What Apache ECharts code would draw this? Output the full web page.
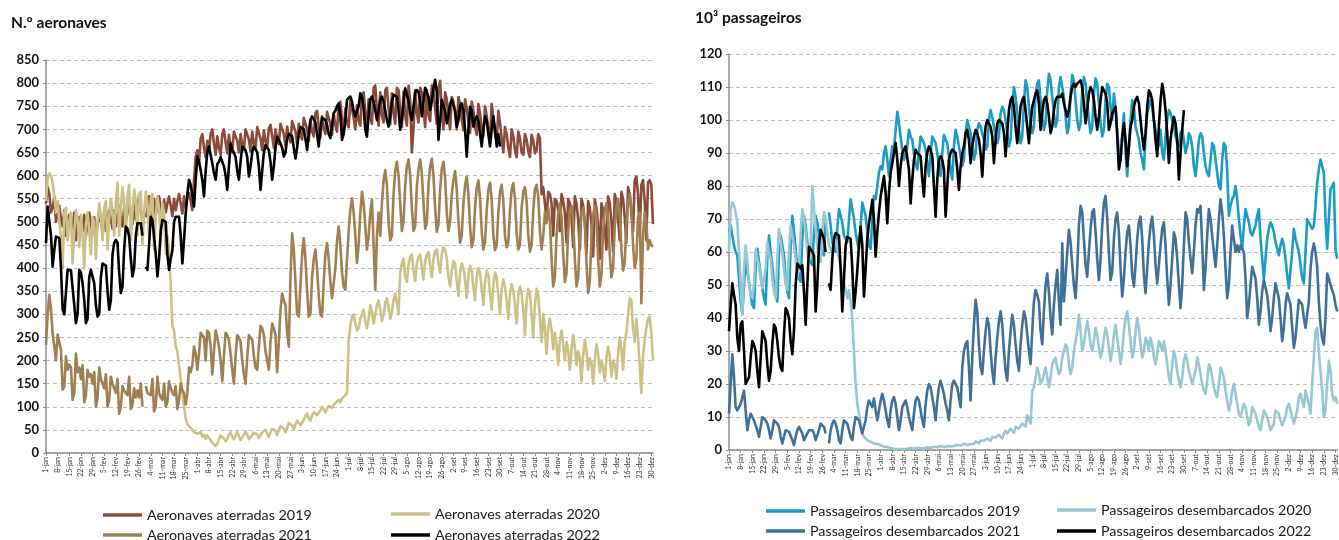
<!DOCTYPE html>
<html>
<head>
<meta charset="utf-8">
<script src="https://cdn.jsdelivr.net/npm/echarts@6/dist/echarts.min.js"></script>
<style>html,body{margin:0;padding:0;background:#fff}#c{width:1339px;height:540px}</style>
</head>
<body>
<div id="c"></div>
<script>
// ---- categories (leap-year calendar, as in the reference axis) ----
const monthNames = ['jan','fev','mar','abr','mai','jun','jul','ago','set','out','nov','dez'];
const monthLengths = [31,29,31,30,31,30,31,31,30,31,30,31];
const days = [];
monthNames.forEach((m, i) => { for (let d = 1; d <= monthLengths[i]; d++) days.push(d + '-' + m); });

const leftTitle = 'N.º aeronaves';
const rightTitle = '10³ passageiros';
const leftNames = ['Aeronaves aterradas 2019','Aeronaves aterradas 2020','Aeronaves aterradas 2021','Aeronaves aterradas 2022'];
const rightNames = ['Passageiros desembarcados 2019','Passageiros desembarcados 2020','Passageiros desembarcados 2021','Passageiros desembarcados 2022'];

// ---- aircraft landed (left panel) ----
const aero2019 = [
540,575,560,520,530,555,500, 520,535,505,490,525,470,505, 515,500,485,520,460,495,510, 505,480,515,470,500,520,495,
475,510,470,495,515,500,480, 520,480,505,525,505,485,525, 490,515,535,510,490,530,500, 520,545,515,495,540,505,525,
560,525,500,null,510,530,555, 525,505,550,515,535,555,530, 510,548,520,540,555,535,512, 550,525,545,560,540,518,555,
530,550,562,545,525,590,640, 655,625,680,690,660,640,675, 650,690,700,670,645,685,660, 645,690,700,672,648,688,665,
650,695,698,675,650,690,668, 655,700,702,678,652,695,670, 658,705,708,680,655,698,675, 660,702,710,685,660,700,680,
668,712,715,690,665,706,685, 672,718,722,695,668,712,690, 678,725,728,700,675,720,695, 685,735,740,708,682,728,702,
690,738,742,712,688,735,708, 695,755,760,720,692,745,712, 705,762,765,725,700,752,718, 708,775,780,735,705,765,725,
712,790,795,740,708,780,730, 715,785,790,745,710,778,735, 712,790,785,740,705,782,730, 708,795,760,650,702,785,735,
715,790,780,740,705,785,730, 718,795,785,745,712,790,805, 740,700,780,765,725,700,770, 760,735,700,770,755,720,698,
765,745,715,692,760,740,705, 688,755,735,700,685,750,730, 695,680,755,725,690,672,740, 715,680,650,705,690,660,640,
700,685,655,640,695,680,650, 645,690,678,652,640,688,675, 648,655,690,682,560,575,540, 505,565,560,540,470,550,545,
525,480,560,545,520,455,550, 540,510,445,555,540,505,440, 550,535,500,430,545,530,495, 425,548,530,490,420,540,525,
485,440,555,540,500,435,560, 545,505,460,565,550,510,455, 575,560,520,480,590,598,560, 470,580,590,545,460,585,590,
580,495];
const aero2020 = [
545,595,605,600,585,555,520, 545,500,470,400,520,530,460, 500,520,410,480,525,505,445, 515,470,400,495,520,480,430,
510,500,420,500,540,510,460, 530,545,440,510,550,520,470, 540,585,470,530,575,540,480, 555,580,460,520,570,545,470,
560,565,450,520,565,540,465, 550,560,440,510,555,530,455, 540,520,430,470,440,360,275, 265,230,220,190,160,130,100,
75,62,60,55,50,45,48, 42,38,45,35,40,30,38, 42,28,22,18,15,20,30, 38,42,32,25,30,40,45,
35,30,38,45,42,28,33, 40,47,45,30,28,38,44, 48,40,32,35,45,48,50, 42,35,45,52,55,48,38,
50,58,60,52,45,55,65, 68,60,50,62,70,72,60, 58,72,80,85,75,70,82, 88,90,82,78,92,100,95,
88,96,102,105,98,95,108, 112,115,110,118,122,125,130, 240,275,295,300,280,265,270, 290,300,310,285,270,290,320,
305,280,300,320,330,310,285, 300,325,335,315,290,305,330, 345,325,300,390,410,420,380, 370,405,425,430,395,372,410,
425,430,400,375,415,428,435, 405,380,420,435,440,410,390, 430,445,440,420,380,360,395, 415,410,370,340,390,410,400,
375,335,385,405,395,360,330, 380,400,390,355,320,370,395, 385,345,310,365,390,380,340, 300,355,375,360,330,290,345,
365,350,320,280,340,360,345, 310,255,330,355,345,300,250, 320,355,340,290,240,300,270, 215,270,290,265,225,260,235,
190,245,265,235,200,240,220, 180,225,255,230,190,220,205, 155,210,245,220,180,205,195, 150,200,235,215,175,200,185,
155,205,230,210,165,200,190, 160,215,250,225,180,240,260, 300,335,330,270,240,290,250, 250,130,210,245,270,290,295,
260,200];
const aero2021 = [
234,300,342,310,259,230,200, 256,256,223,137,144,209,180, 191,185,115,130,215,175,185, 160,190,110,125,180,165,170,
150,175,100,120,185,160,150, 140,170,100,115,165,150,140, 130,160,85,100,145,135,130, 125,165,95,105,140,120,135,
120,150,100,null,145,130,130, 125,160,90,100,165,130,120, 115,150,100,110,155,140,130, 125,145,95,115,150,135,130,
105,130,185,175,190,230,215, 180,215,260,255,250,200,265, 260,230,170,220,265,250,230, 200,155,210,260,255,245,215,
180,150,210,255,250,240,200, 170,150,205,255,250,245,210, 185,180,230,275,270,255,220, 200,180,240,280,270,255,175,
240,310,345,330,320,260,230, 380,475,440,370,300,295,360, 430,465,420,350,295,300,380, 420,440,400,340,300,295,370,
430,454,420,370,335,331,400, 460,490,450,390,360,353,420, 480,526,551,520,470,411,450, 520,565,540,490,440,470,520,
548,545,353,470,520,470,540, 590,612,580,500,460,470,560, 610,630,600,540,480,500,580, 620,635,600,530,480,490,575,
615,635,605,540,485,497,580, 620,637,600,530,478,495,570, 615,630,595,520,480,500,560, 590,610,570,500,455,470,540,
580,598,560,490,445,460,530, 575,590,550,480,440,455,525, 570,585,550,470,439,450,520, 565,580,545,470,445,455,525,
570,584,550,475,440,450,530, 565,575,545,470,436,450,525, 570,580,555,480,440,470,520, 497,530,500,420,360,380,470,
520,540,510,430,370,390,480, 525,535,505,420,360,380,470, 520,530,500,410,346,370,465, 515,535,505,420,360,385,480,
525,540,510,430,380,400,490, 530,550,520,440,395,410,500, 540,560,530,450,400,420,510, 520,324,470,520,500,440,460,
450,446];
const aero2022 = [
454,533,530,470,403,440,468, 468,465,400,310,300,303,396, 400,395,396,320,281,300,396, 390,367,330,281,290,380,396,
395,367,320,295,300,380,410, 410,405,350,310,330,430,454, 461,455,390,346,360,440,490, 485,468,420,382,400,470,497,
497,497,470,null,403,396,450, 511,504,500,430,382,420,480, 504,504,500,430,396,420,439, 500,511,511,511,470,410,460,
518,560,591,580,576,533,590, 641,630,612,590,555,610,650, 663,645,627,605,591,625,630, 640,630,620,600,569,620,670,
655,650,640,610,591,630,663, 665,655,640,598,620,650,663, 660,650,620,569,610,650,666, 660,655,630,591,620,660,684,
680,670,660,641,650,680,690, 691,685,660,637,660,690,705, 709,700,680,655,690,720,728, 725,715,690,663,700,725,728,
720,710,690,681,710,735,740, 750,756,730,677,690,720,764, 760,771,760,740,728,728,750, 778,770,745,700,684,730,765,
771,760,740,720,740,765,771, 760,740,720,706,730,760,775, 778,770,740,699,720,760,789, 785,760,735,720,750,780,785,
780,760,728,760,790,792,770, 742,760,790,807,780,677,720, 764,760,740,713,730,755,764, 760,740,706,720,750,756,740,
700,641,700,749,740,706,720, 728,720,690,663,700,728,720, 690,663,700,728,700,663,690, 663];

// ---- passengers disembarked, thousands (right panel) ----
const pax2019 = [
66,68,65,62,60,59,52, 45,41,50,57,54,51,47, 44,43,55,61,57,53,49, 46,44,58,65,60,56,50,
47,45,60,65,62,59,52, 48,46,62,71,66,61,55, 52,51,64,71,68,63,58, 57,56,66,71,69,65,61,
60,59,70,null,72,68,63, 61,60,67,73,71,69,65, 64,63,70,76,73,70,66, 63,61,68,75,73,71,66,
62,61,70,77,76,80,84, 86,85,90,92,88,83,88, 92,91,97,102.5,99,95,91, 88,88,92,97,95,94,90,
87,85,90,95,95,93,91, 87,83,90,95,94,93,90, 86,83,90,95.5,94,93,89, 85,82,92,97,95,92,89,
86,88,96,100,98,96,92, 88,90,97,99,98,96,94, 91,92,100,103,101,98,95, 93,95,102,104,103,100,96,
92,94,104,110,107,102,97, 93,95,105,112,110,104,99, 96,98,108,111,112,106,101, 97,99,109,114,112,107,102,
98,100,110,113,113,107,101, 96,98,108,113.6,112,106,100, 97,99,109,113,111,105,100, 96,98,108,112.6,111,105,99,
95,97,106,111,110,104,100, 108,104,97,90,88,95,102, 90,83,92,100,106,104,98, 96,94,90,88,85,95,102,
104,106,104,100,97,95,92, 97,90,88,95,100,103,102, 100,98,95,93,92,96,97, 94,90,92,96,95,92,86,
83,88,94,96,95,90,86, 84,83,88,93,92,88,84, 80,79,88,93,92,85,71, 74,76,77,80,76,70,65,
61,68,73,71,69,66,65, 65,68,71,73,64,58,52, 58,64,67,69,68,66,63, 61,59,62,64,62,58,53,
49,48.5,60,67,64,62,60, 56,52,50.5,60,70,69,68, 67,68,74,81,85,88,86, 84,70,61,70,79,80,81,
61,58];
const pax2020 = [
60,73,75,74,72,69,60, 50.5,41,55,62,57,50.5,47, 46,50,61,58,56,52,49, 48.5,55,63,60,58,52,48,
46,58,67,63,60,55,50, 48.5,60,68,65,62,58,52, 56,66,73,70,66,60,57, 62,80,73,67,62,58,57,
66,72,70,66,62,61,60, 65,63,61,58,55,52,50.5, 48.5,46,48.5,45,40,30,20, 14,11,8,5,4,3.5,3,
3,2.5,2.5,2,2,1.8,1.5, 1.5,1.3,1,1.1,0.9,0.8,0.6, 0.5,0.4,0.3,0.3,0.2,0.3,0.4, 0.3,0.5,0.4,0.3,0.6,0.5,0.4,
0.5,0.7,0.6,0.5,0.8,0.6,0.7, 0.8,1.0,0.7,0.6,0.9,1.1,0.9, 0.8,1.2,1.0,0.9,1.3,1.2,1.0, 1.1,1.5,1.2,1.1,1.6,1.4,1.3,
1.4,1.9,1.6,1.5,2.1,1.8,1.6, 1.8,2.6,2.2,2.0,2.9,3.3,2.8, 2.5,3.5,3.0,2.8,4.0,4.5,3.8, 3.2,4.6,4.0,3.5,5.0,5.8,5.0,
4.5,6.5,6.0,5.2,7.0,7.5,6.5, 6.0,8.0,7.5,7.0,10.5,11,8, 18,19,22,25,23,20,21, 23,25,22,19,22,26,27,
28,25,23,24,28,30,32, 31,26,23,25,30,33,36, 41,36,30,32,36,39,36, 32,30,33,37,35,31,28,
30,34,37,35,31,27,30, 35,38,34,30,26,30,36, 40,42,38,33,28,30,36, 40,37,32,28,30,34,33,
30,34,32,28,26,29,33, 32,30,33,30,26,22,20, 26,30,28,24,21,19,22, 27,29,27,24,22,20,20,
24,28,26,23,20,18,17, 21,26,25,22,19,17,16, 20,25,25,22,18,15,12, 14,18,20,17,14,11,10,
12,14,13,10,7.5,9,13, 12,11,9,7,6,9,12, 12,10,8,6,5.5,8,12, 12.6,11,9,7.5,7,10,13,
14,12,10,8,8,12,16, 17,15,13,18,18,14,11, 20,28,36,37,30,24,18, 10,12,20,27,24,17,15,
16,14];
const pax2021 = [
11,20,29,22,13,12,12, 14,16,18,12,6,9,11, 10,9,9,6,4,7,10, 10,9,8,6,3.5,6,9,
9,8,7,4,2,4,6, 6,5.5,5,3,1.5,4,6, 7,6,5,3,3,5,6, 6,6,5,3,3,6,8,
8,7,5,null,2,6,8, 9,8,6,3,2,6,9, 9,8,6,4,3,7,10, 10,9,7,5,5,9,13,
15,14,13,15.6,12,9,12, 15,17,15,12,9,7,12, 15,16,14,10,6,9,13, 14,15,13,10,8,6,11,
15,16,15,12,9,7,14, 18,20,19,16,13,9,15, 19,21,19,17,14,12,9, 15,20,21,21,19,16,13,
25,30,32,33,25,15,28, 38,45.5,42,32,25,23,30, 36,40,38,30,24,20,28, 34,39,42,38,30,24,21,
30,36,41,38,32,27,24, 32,38,42,40,35,30,26, 36,45,48.5,47,45,36,32, 42,50,53.5,48,40,35,44,
50,54.5,45,38,62.6,45,52, 60,66.7,63,56,50,46,55, 68,74,72,64,56,52.5,60, 67,72,73,66,58,51.5,58,
68,75,77,70,60,51.5,54, 64,70,72,66,55,46.5,52, 60,66,68,62,53,49.5,56, 64,69,70.7,64,53,47.5,55,
63,68,70.7,65,56,50.5,56, 62,67,69,62,52,44,50, 58,66,64,58,50,43,50, 62,72,70,63,58,53.5,60,
68,73,72,74,62,48.5,55, 65,73,70,65,60,55.5,62, 70,76,72,65,55,46,50, 60,68,64,60,62,60,62,
62.6,60,52,40,44,50,55.5, 55,52,46,38,42,48,51.5, 51,47,42,36,40,46,50.5, 50,46,40,33,37,44,47.5,
47.5,44,37,31,34,40,45.5, 45.5,44,40,37,37,45,55, 60,62.6,60,55.5,45,38,34, 32,40,53.5,52,50,49.5,47,
44,42];
const pax2022 = [
36,44,50.5,47,44,34,30, 38,39,30,20,21,22,28, 33,32,30,24,19,28,36, 36,33,26,21,24,32,38,
37,33,28,25,24,35,43, 42,40,33,29,36,50,56.5, 56,55,56,48,38,50,61.6, 61.6,60,59,42,50,62,66.7,
66.7,64,60,null,50.5,48.5,58, 64,65.7,66,65,55,42,52, 62,64.6,64.5,64,55,43,48, 54.5,62,67.7,62,46.5,55,64,
68.7,72,75.8,70,58.6,66,72, 76.8,80,83,78,68.7,78,84, 86.9,90,93,88,80,86,90, 91,92,92,85,74.7,82,88,
91,90,90,89,82,76.8,86, 90,92,91,89,80,70.7,82, 88,89,88,85,70.7,80,88, 90,91,91,90,85,78.8,86,
90,92,96,97,94,86.9,92, 95,97,96,94,90,82.8,92, 98,100,99,98,95,86.9,94, 99,100,100,99,96,89,96,
103,106,107,104,98,93,98, 104,106,107,103,98,93,99, 104,106,108,109,105,97,102, 106,107,105,101,96,98,103,
106,107,107.5,107,108,105,103, 101,103,107,110,111,110,111, 111,112,110,105,99,103,108, 110,109,106,101,97,101,106,
110,109,108,105,97,99,102, 103,104,95,85,88,95,99, 94,86,92,98,100,104,106, 107,105,100,95,91,96,104,
109,108,106,100,94,89,98, 106,111,108,103,96,87,94, 98,101,99,94,82,90,97, 103];

// ---- axis ticks ----
const leftTicks = {min: 0, max: 850, interval: 50};
const rightTicks = {min: 0, max: 120, interval: 10};

const FONT = 'Lato, "Open Sans", "Liberation Sans", sans-serif';
const leftColors = ['#8C4B38', '#CBC185', '#9E8052', '#000000'];
const rightColors = ['#1A9CC4', '#95C7D4', '#3E709A', '#000000'];

function mkX(gi) {
  return {
    type: 'category', gridIndex: gi, data: days, boundaryGap: false,
    axisLine: {lineStyle: {color: '#8c8c8c', width: 1.5}},
    axisTick: {show: true, interval: 6, length: 3, lineStyle: {color: '#8c8c8c'}},
    axisLabel: {interval: 6, rotate: 90, fontSize: 7, color: '#333', fontFamily: FONT, margin: 4, hideOverlap: false},
    splitLine: {show: false}
  };
}
function mkY(gi, t) {
  return {
    type: 'value', gridIndex: gi, min: t.min, max: t.max, interval: t.interval,
    axisLine: {show: true, lineStyle: {color: '#8c8c8c', width: 1.5}},
    axisTick: {show: true, length: 3, lineStyle: {color: '#8c8c8c'}},
    axisLabel: {fontSize: 13, fontWeight: 'bold', color: '#111', fontFamily: FONT, margin: 7},
    splitLine: {show: true, lineStyle: {color: '#bdbdbd', type: [4, 3], width: 1}}
  };
}
function mkS(name, data, color, gi, z) {
  return {
    type: 'line', name: name, data: data, xAxisIndex: gi, yAxisIndex: gi,
    symbol: 'none', connectNulls: false, z: z, color: color,
    lineStyle: {color: color, width: 2.6, join: 'round'},
    emphasis: {disabled: true}
  };
}
function mkL(name, left, top, size) {
  return {
    data: [{name: name, icon: 'rect'}], left: left, top: top, padding: 0,
    itemWidth: 39, itemHeight: 3.5, selectedMode: false,
    textStyle: {fontSize: size, color: '#1a1a1a', fontFamily: FONT}
  };
}

const chart = echarts.init(document.getElementById('c'), null, {renderer: 'canvas'});
chart.setOption({
  animation: false,
  backgroundColor: '#ffffff',
  title: [
    {text: leftTitle, left: 11, top: 15, padding: 0, textStyle: {fontSize: 15.5, fontWeight: 'bold', color: '#111', fontFamily: FONT}},
    {text: rightTitle, left: 695, top: 10, padding: 0, textStyle: {fontSize: 15.5, fontWeight: 'bold', color: '#111', fontFamily: FONT}}
  ],
  legend: [
    mkL(leftNames[0], 103, 508, 14.3), mkL(leftNames[1], 391, 507, 14.3),
    mkL(leftNames[2], 103, 528, 14.3), mkL(leftNames[3], 391, 528, 14.3),
    mkL(rightNames[0], 766, 504, 14.3), mkL(rightNames[1], 1057, 503, 14.3),
    mkL(rightNames[2], 766, 524, 14.3), mkL(rightNames[3], 1057, 524, 14.3)
  ],
  grid: [
    {left: 46, right: 686, top: 60, bottom: 87},
    {left: 729, right: -2, top: 54, bottom: 90}
  ],
  xAxis: [mkX(0), mkX(1)],
  yAxis: [mkY(0, leftTicks), mkY(1, rightTicks)],
  series: [
    mkS(leftNames[0], aero2019, leftColors[0], 0, 2),
    mkS(leftNames[1], aero2020, leftColors[1], 0, 3),
    mkS(leftNames[2], aero2021, leftColors[2], 0, 4),
    mkS(leftNames[3], aero2022, leftColors[3], 0, 5),
    mkS(rightNames[0], pax2019, rightColors[0], 1, 2),
    mkS(rightNames[1], pax2020, rightColors[1], 1, 3),
    mkS(rightNames[2], pax2021, rightColors[2], 1, 4),
    mkS(rightNames[3], pax2022, rightColors[3], 1, 5)
  ]
});
</script>
</body>
</html>
